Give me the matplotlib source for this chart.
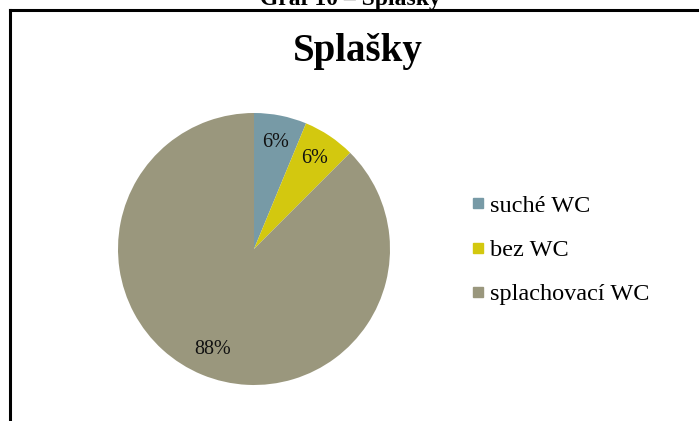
import matplotlib
matplotlib.use("Agg")
import matplotlib.pyplot as plt
from matplotlib.lines import Line2D

# data
categories = ["suché WC", "bez WC", "splachovací WC"]
shares = [6.25, 6.25, 87.5]
colors = ["#779AA6", "#D3C80F", "#9A977D"]

plt.rcParams['font.family'] = ['Liberation Serif', 'DejaVu Serif']

W, H = 699, 421
fig = plt.figure(figsize=(W / 100, H / 100), dpi=100)

# caption cut off above the chart frame
fig.text(350 / W, 1 - 5 / H, "Graf 10 – Splašky", ha='center', va='baseline',
         fontsize=17, fontweight='bold')

# frame lines (top and left only visible)
fig.add_artist(Line2D([9.5 / W, 1], [1 - 9.5 / H, 1 - 9.5 / H], color='black', lw=2.2,
                      transform=fig.transFigure))
fig.add_artist(Line2D([9.5 / W, 9.5 / W], [0, 1 - 9.5 / H], color='black', lw=2.2,
                      transform=fig.transFigure))

fig.text(358 / W, 1 - 51 / H, "Splašky", ha='center', va='center',
         fontsize=28, fontweight='bold')

# pie axes: center (254, 249) px, radius 136 px
cx, cy, r = 254, 249, 136
ax = fig.add_axes([(cx - r) / W, (H - cy - r) / H, 2 * r / W, 2 * r / H])
wedges, texts, autotexts = ax.pie(shares, colors=colors, startangle=90, counterclock=False,
                                  autopct='%.0f%%', pctdistance=0.8,
                                  textprops={'fontsize': 14.5, 'color': '#111111'})
ax.set_xlim(-1, 1)
ax.set_ylim(-1, 1)
ax.set_aspect('equal')

handles = [Line2D([], [], marker='s', linestyle='none', markersize=7.5,
                  markerfacecolor=c, markeredgecolor=c) for c in colors]
fig.legend(handles, categories, loc='center left', bbox_to_anchor=(471 / W, 1 - 250 / H),
           frameon=False, fontsize=17.5, handlelength=0.6, handletextpad=0.2,
           labelspacing=0.92, borderpad=0, borderaxespad=0)

fig.savefig("out.png", dpi=100)
